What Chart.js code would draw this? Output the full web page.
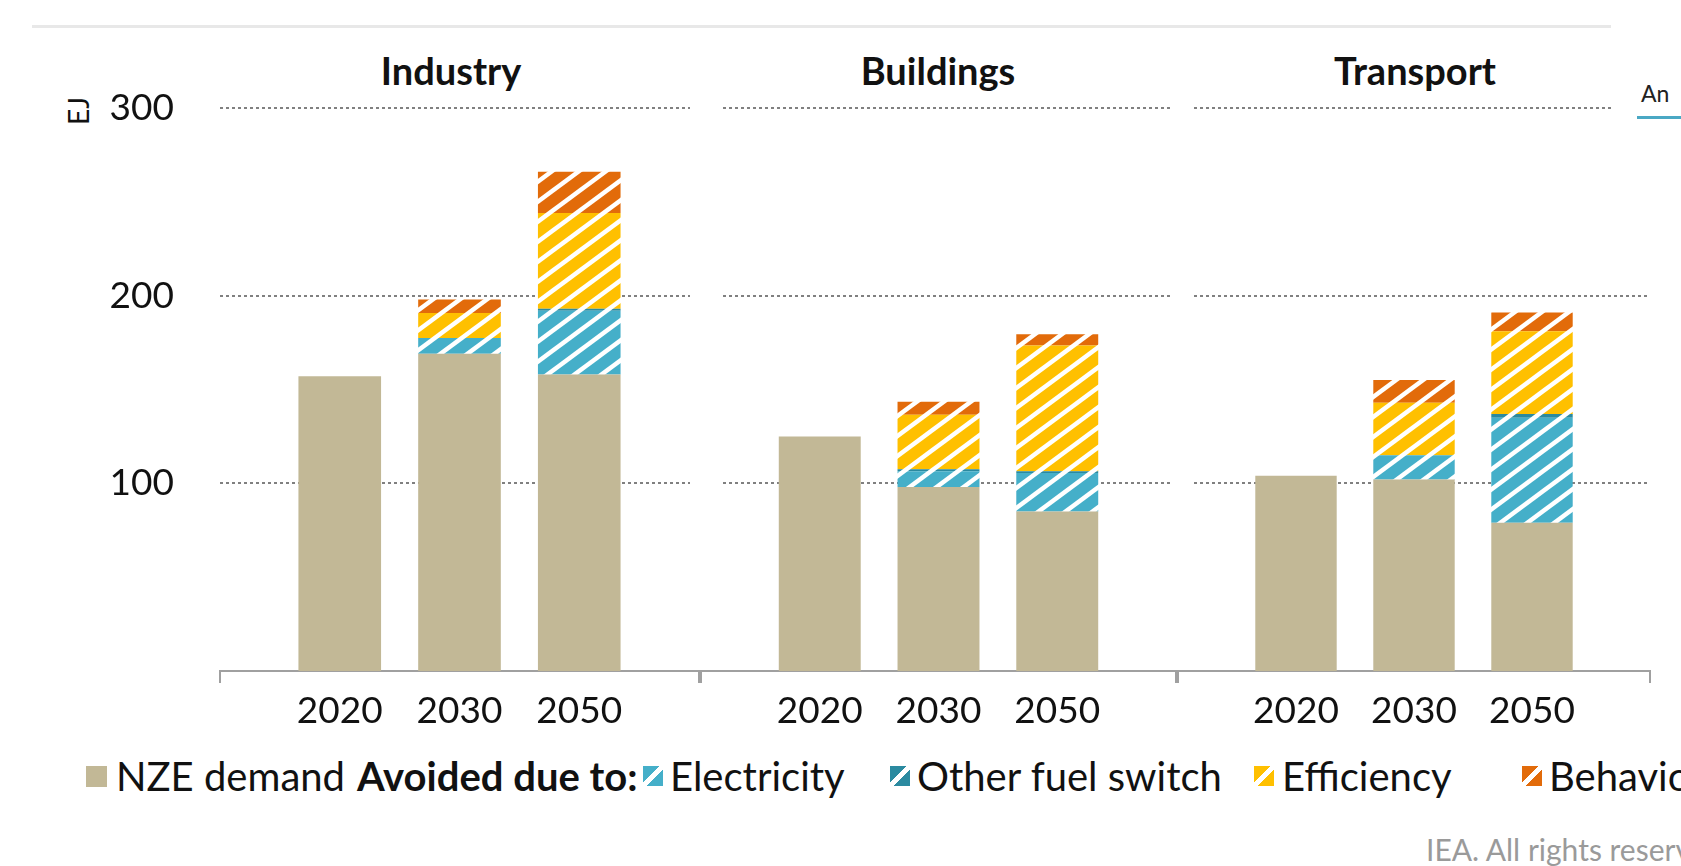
<!DOCTYPE html>
<html>
<head>
<meta charset="utf-8">
<script src="https://cdn.jsdelivr.net/npm/chart.js@4"></script>
<style>
  body { margin: 0; width: 1681px; height: 866px; overflow: hidden; background: #fff; font-family: Lato, sans-serif; color: #111; position: relative; }
  .abs { position: absolute; white-space: nowrap; }
  .title { font-weight: bold; font-size: 38px; line-height: 44px; transform: translateX(-50%); }
  .leg { font-size: 40px; line-height: 46px; top: 753px; }
  .ico { width: 20px; height: 20px; top: 766px; }
</style>
</head>
<body>
<div class="abs" style="left:32px;top:25px;width:1579px;height:3px;background:#e8e8e8"></div>

<div class="abs title" style="left:451px;top:48px">Industry</div>
<div class="abs title" style="left:938px;top:48px">Buildings</div>
<div class="abs title" style="left:1415px;top:48px">Transport</div>

<div class="abs" style="left:64px;top:96px;font-size:28px;line-height:30px;transform:rotate(-90deg);transform-origin:50% 50%">EJ</div>

<div id="panels"></div>

<div class="abs" style="left:1611px;top:62px;width:70px;height:64px;background:#fff"></div>
<div class="abs" style="left:1641px;top:80px;font-size:23px;line-height:26px;color:#222">An</div>
<div class="abs" style="left:1637px;top:116px;width:44px;height:3px;background:#4aa8c4"></div>

<div id="legend"></div>

<div class="abs" style="left:1426px;top:831px;font-size:30px;line-height:36px;color:#9a9a9a">IEA. All rights reserved.</div>

<script>
const sectors = ['Industry', 'Buildings', 'Transport'];
const years = ['2020', '2030', '2050'];

// EJ, per bar: Industry 2020/2030/2050, Buildings ..., Transport ...
const nzeDemand   = [157, 169, 158,   125, 98, 85,    104, 102, 79];
const electricity = [0, 8.5, 34,      0, 8.5, 20.5,   0, 13, 56];
const otherFuel   = [0, 0, 1,         0, 1, 1,        0, 0, 2];
const efficiency  = [0, 13.2, 51,     0, 29, 67,      0, 28, 44];
const behaviour   = [0, 7.3, 22,      0, 7, 6,        0, 12, 10];

const yTicks = [0, 100, 200, 300];

const colTan = '#c2b896';
const colElec = '#45afc9';
const colOther = '#2b8aa0';
const colEff = '#ffc000';
const colBeh = '#e26b0a';

function stripes(color) {
  let c = document.createElement('canvas');
  let w = 27, h = 20;
  c.width = w; c.height = h;
  let g = c.getContext('2d');
  g.fillStyle = color;
  g.fillRect(0, 0, w, h);
  g.strokeStyle = '#fff';
  g.lineWidth = 4.5;
  for (let k = -1; k <= 1; k++) {
    g.beginPath();
    g.moveTo(k * w - w, 2 * h);
    g.lineTo(k * w + 2 * w, -h);
    g.stroke();
  }
  return g.createPattern(c, 'repeat');
}

// dotted value lines, a bit shorter than the panel so the panels look apart
const dotGrid = {
  id: 'dotGrid',
  beforeDatasetsDraw(chart, args, opts) {
    let {ctx, chartArea, scales} = chart;
    let y = scales.y;
    ctx.save();
    ctx.strokeStyle = '#808080';
    ctx.lineWidth = 2;
    ctx.setLineDash([3, 3]);
    yTicks.forEach(v => {
      if (v === 0) return;
      let py = Math.round(y.getPixelForValue(v));
      ctx.beginPath();
      ctx.moveTo(chartArea.left + opts.inL, py);
      ctx.lineTo(chartArea.right - opts.inR, py);
      ctx.stroke();
    });
    ctx.restore();
  }
};

const panels = [
  {L: 100, W: 605, pl: 0, pr: 5, yShow: true, inL: 0, inR: 9},
  {L: 695, W: 487, pl: 5, pr: 5, yShow: false, inL: 22, inR: 6},
  {L: 1172, W: 484, pl: 5, pr: 5, yShow: false, inL: 16, inR: 0}
];

const holder = document.getElementById('panels');

panels.forEach((p, i) => {
  let canvas = document.createElement('canvas');
  canvas.width = p.W;
  canvas.height = 694;
  canvas.style.position = 'absolute';
  canvas.style.left = p.L + 'px';
  canvas.style.top = '46px';
  holder.appendChild(canvas);

  let part = arr => [null, ...arr.slice(i * 3, i * 3 + 3), null];
  let labels = ['', ...years, ''];

  let yScale = {
    display: p.yShow,
    stacked: true,
    min: 0,
    max: 300,
    grid: {display: false},
    border: {display: false},
    ticks: {
      stepSize: 100,
      padding: 38,
      color: '#111',
      font: {family: 'Lato', size: 37},
      callback: v => v === 0 ? '' : v
    }
  };
  if (p.yShow) yScale.afterFit = s => { s.width = 120; };

  new Chart(canvas.getContext('2d'), {
    type: 'bar',
    data: {
      labels: labels,
      datasets: [
        {label: 'NZE demand', data: part(nzeDemand), backgroundColor: colTan},
        {label: 'Electricity', data: part(electricity), backgroundColor: stripes(colElec)},
        {label: 'Other fuel switch', data: part(otherFuel), backgroundColor: stripes(colOther)},
        {label: 'Efficiency', data: part(efficiency), backgroundColor: stripes(colEff)},
        {label: 'Behaviour', data: part(behaviour), backgroundColor: stripes(colBeh)}
      ]
    },
    options: {
      responsive: false,
      animation: false,
      categoryPercentage: 0.69,
      barPercentage: 1,
      layout: {padding: {top: 62, left: p.pl, right: p.pr, bottom: 0}},
      plugins: {
        legend: {display: false},
        tooltip: {enabled: false},
        dotGrid: {inL: p.inL, inR: p.inR}
      },
      scales: {
        x: {
          stacked: true,
          offset: false,
          grid: {
            display: true,
            offset: false,
            drawOnChartArea: false,
            drawTicks: true,
            tickLength: 12,
            lineWidth: 2,
            color: c => (c.index === 0 || c.index === 4) ? '#a0a0a0' : 'rgba(0,0,0,0)'
          },
          border: {display: true, color: '#a0a0a0', width: 2},
          ticks: {
            autoSkip: false,
            maxRotation: 0,
            padding: 6,
            color: '#111',
            font: {family: 'Lato', size: 37}
          },
          afterFit: s => { s.height = 69; }
        },
        y: yScale
      }
    },
    plugins: [dotGrid]
  });
});

// legend
const legendItems = [
  {kind: 'solid', color: colTan, icoX: 86, text: 'NZE demand', textX: 116},
  {kind: 'head', text: 'Avoided due to:', textX: 357},
  {kind: 'stripe', color: colElec, icoX: 643, text: 'Electricity', textX: 670},
  {kind: 'stripe', color: colOther, icoX: 890, text: 'Other fuel switch', textX: 917},
  {kind: 'stripe', color: colEff, icoX: 1254, text: 'Efficiency', textX: 1282},
  {kind: 'stripe', color: colBeh, icoX: 1522, text: 'Behaviour', textX: 1549}
];

const leg = document.getElementById('legend');
legendItems.forEach(it => {
  if (it.kind !== 'head') {
    let ico = document.createElement('div');
    ico.className = 'abs ico';
    ico.style.left = it.icoX + 'px';
    if (it.kind === 'solid') {
      ico.style.background = it.color;
      ico.style.width = '21px';
      ico.style.height = '21px';
    } else {
      ico.style.background = `linear-gradient(to bottom right, ${it.color} 0 42%, #fff 42% 58%, ${it.color} 58%)`;
    }
    leg.appendChild(ico);
  }
  let t = document.createElement('div');
  t.className = 'abs leg';
  t.style.left = it.textX + 'px';
  if (it.kind === 'head') t.style.fontWeight = 'bold';
  t.textContent = it.text;
  leg.appendChild(t);
});
</script>
</body>
</html>
